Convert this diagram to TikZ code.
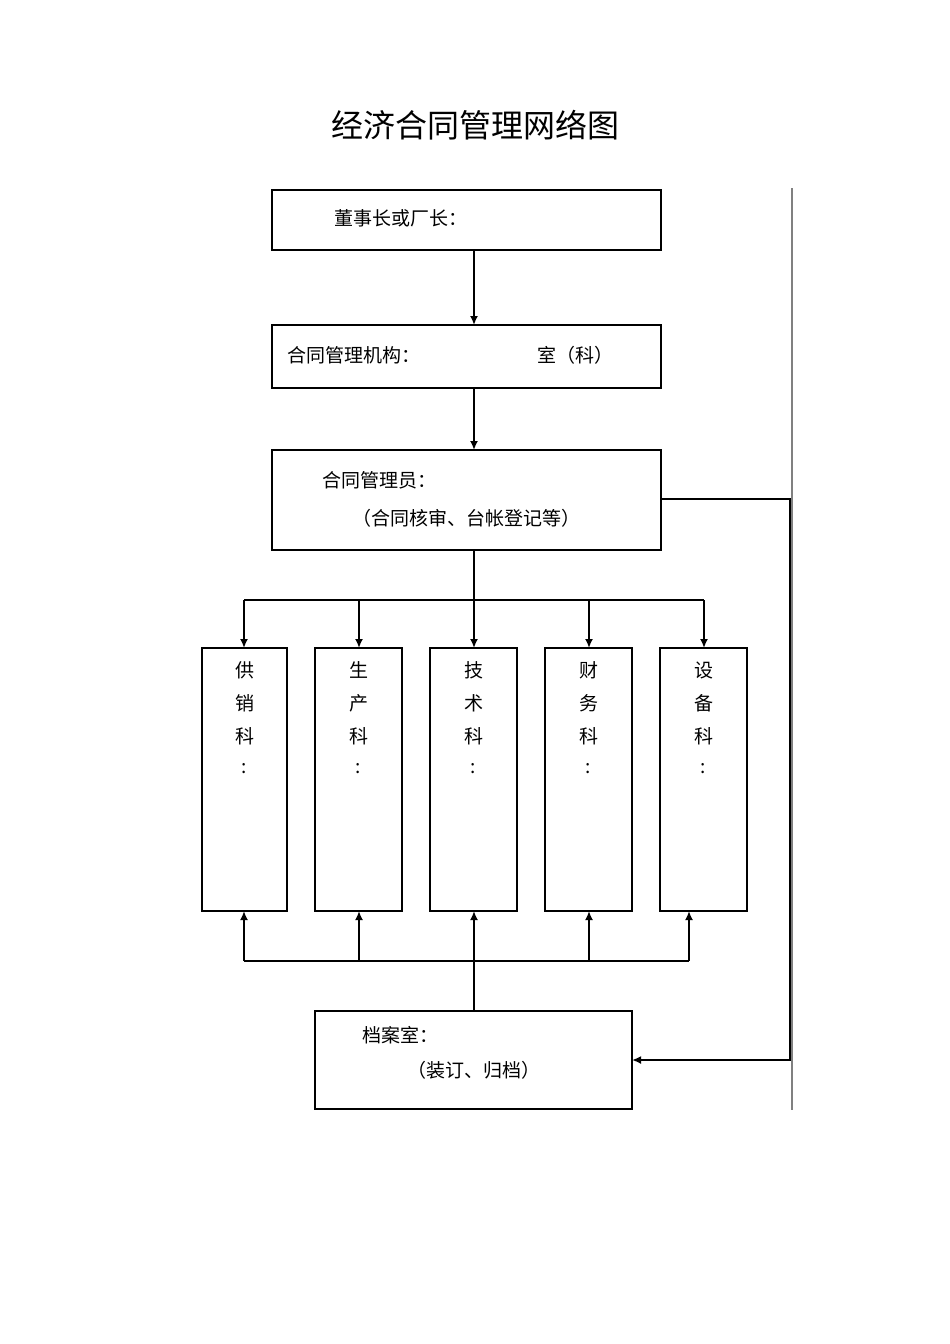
\documentclass[tikz,border=0pt]{standalone}
\usepackage{fontspec}
\setmainfont{Noto Sans CJK SC}
\usetikzlibrary{arrows.meta}
\begin{document}
\begin{tikzpicture}[x=1pt,y=-1pt,
  box/.style={draw,line width=2.6pt,inner sep=0},
  con/.style={line width=2.4pt},
  arr/.style={con,-{Latex[length=9pt,width=8pt]}},
  t/.style={font=\fontsize{19}{22}\selectfont,inner sep=0}]
\useasboundingbox (0,0) rectangle (950,1344);
\node[font=\fontsize{32}{36}\selectfont] (title) at (475,125) {经济合同管理网络图};
\draw[gray,line width=1.2pt] (792,188) -- (792,1110);
\node[box,minimum width=389,minimum height=60] (b1) at (466.5,220) {};
\node[t,anchor=west] (t1) at (334,218) {董事长或厂长：};
\node[box,minimum width=389,minimum height=63] (b2) at (466.5,356.5) {};
\node[t,anchor=west] (t2a) at (287,355) {合同管理机构：};
\node[t,anchor=west] (t2b) at (537,355) {室（科）};
\node[box,minimum width=389,minimum height=100] (b3) at (466.5,500) {};
\node[t,anchor=west] (t3a) at (322,480) {合同管理员：};
\node[t] (t3b) at (466,518) {（合同核审、台帐登记等）};
\draw[arr] (474,250) -- (474,325);
\draw[arr] (474,388) -- (474,450);
\coordinate (bus1) at (474,600);
\draw[con] (474,550) -- (bus1);
\draw[con] (244,600) -- (704,600);
\foreach \n/\x/\w/\a/\b/\c/\ax/\bx in {s1/244.5/85/供/销/科/244/244, s2/358.5/87/生/产/科/359/359, s3/473.5/87/技/术/科/474/474, s4/588.5/87/财/务/科/589/589, s5/703.5/87/设/备/科/704/689}{
  \node[box,minimum width=\w,minimum height=263] (\n) at (\x,779.5) {};
  \node[t] at (\x,670) {\a};
  \node[t] at (\x,703) {\b};
  \node[t] at (\x,736) {\c};
  \node[t] at (\x,769) {:};
  \draw[arr] (\ax,600) -- (\ax,648);
  \draw[arr] (\bx,961) -- (\bx,911);
}
\draw[con] (244,961) -- (689,961);
\node[box,minimum width=317,minimum height=98] (b4) at (473.5,1060) {};
\node[t,anchor=west] (t4a) at (362,1035) {档案室：};
\node[t] (t4b) at (474,1070) {（装订、归档）};
\draw[con] (474,1011) -- (474,961);
\draw[arr] (661,499) -- (790,499) -- (790,1060) -- (632,1060);
\end{tikzpicture}
\end{document}
